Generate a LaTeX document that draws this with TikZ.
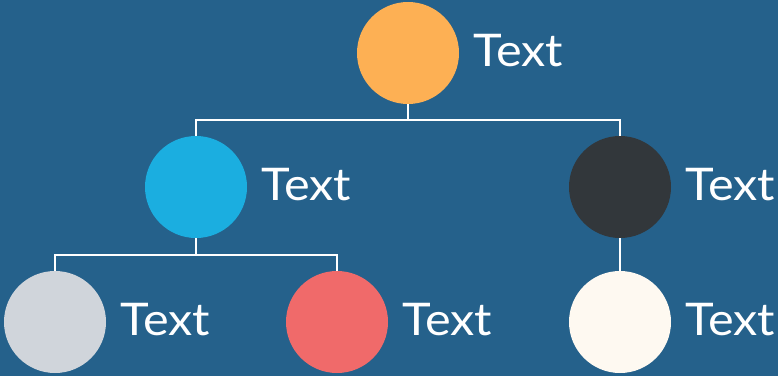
\documentclass[tikz,border=0pt]{standalone}
\usepackage{fontspec}
\setmainfont[FakeStretch=1.08]{Lato}
\definecolor{bg}{HTML}{25618B}
\definecolor{corange}{HTML}{FDB054}
\definecolor{cblue}{HTML}{1BAEE0}
\definecolor{cdark}{HTML}{32373B}
\definecolor{cgray}{HTML}{D0D5DB}
\definecolor{cred}{HTML}{F06A6A}
\definecolor{ccream}{HTML}{FEF9F1}
\tikzset{
  dot/.style={circle, inner sep=0pt, minimum size=102pt},
  lbl/.style={anchor=base west, inner sep=0pt, text=white, font=\fontsize{45}{45}\selectfont},
  conn/.style={draw=white, line width=1.8pt}
}
\begin{document}
\begin{tikzpicture}[x=1pt,y=1pt]
\fill[bg] (0,0) rectangle (778,376);
\useasboundingbox (0,0) rectangle (778,376);
% circles (y = 376 - image y)
\node[dot, fill=corange] (n0) at (408,323) {};
\node[dot, fill=cblue] (n1) at (196,189) {};
\node[dot, fill=cdark] (n2) at (620,189) {};
\node[dot, fill=cgray] (n3) at (55,54) {};
\node[dot, fill=cred] (n4) at (337,54) {};
\node[dot, fill=ccream] (n5) at (620,54) {};
% labels
\node[lbl] (t0) at ([xshift=14pt,yshift=-13pt]n0.east) {Text};
\node[lbl] (t1) at ([xshift=14pt,yshift=-13pt]n1.east) {Text};
\node[lbl] (t2) at ([xshift=14pt,yshift=-13pt]n2.east) {Text};
\node[lbl] (t3) at ([xshift=14pt,yshift=-13pt]n3.east) {Text};
\node[lbl] (t4) at ([xshift=14pt,yshift=-13pt]n4.east) {Text};
\node[lbl] (t5) at ([xshift=14pt,yshift=-13pt]n5.east) {Text};
% connectors
\coordinate (j0) at (408,256);
\coordinate (j1) at (196,121);
\draw[conn] (n0.south) -- (j0) -| (n1.north);
\draw[conn] (j0) -| (n2.north);
\draw[conn] (n1.south) -- (j1) -| (n3.north);
\draw[conn] (j1) -| (n4.north);
\draw[conn] (n2.south) -- (n5.north);
\end{tikzpicture}
\end{document}
